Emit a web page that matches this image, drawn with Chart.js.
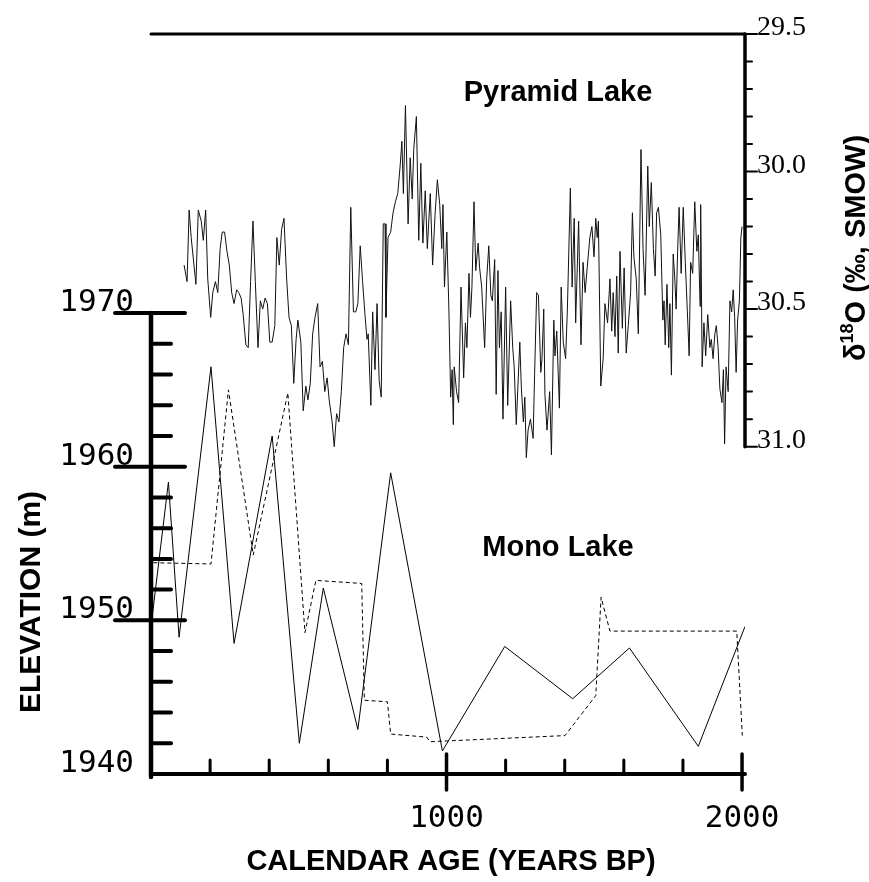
<!DOCTYPE html>
<html lang="en">
<head>
<meta charset="UTF-8">
<title>Pyramid Lake and Mono Lake</title>
<script src="https://cdn.jsdelivr.net/npm/chart.js"></script>
<style>
* { margin: 0; padding: 0; box-sizing: border-box; }
html, body { width: 869px; height: 882px; background: #fff; overflow: hidden; }
#lakeChart { display: block; }
</style>
</head>
<body>
<canvas id="lakeChart" width="869" height="882"></canvas>
<script>
// Pyramid Lake d18O record (calendar age, permil SMOW)
const pyramidAge = [
  112,122,129,136,152,160,170,177,185,192,202,209,218,226,234,241,249,257,265,273,281,290,297,305,
  312,321,329,337,345,353,362,370,378,386,394,402,410,419,426,434,442,450,459,467,475,483,491,497,
  507,515,524,531,539,547,555,564,572,580,588,596,603,613,620,628,636,644,652,660,668,676,685,693,
  700,708,716,724,731,735,744,750,758,765,772,779,786,792,795,802,811,819,827,835,843,849,854,861,
  870,877,884,889,898,906,913,920,928,935,945,953,961,969,977,984,988,993,1001,1008,1014,1019,1023,
  1026,1034,1041,1049,1058,1064,1069,1076,1081,1086,1093,1099,1107,1112,1119,1129,1136,1143,1150,
  1155,1163,1168,1174,1179,1185,1191,1200,1207,1217,1224,1229,1236,1242,1248,1253,1260,1265,1270,
  1276,1284,1293,1298,1305,1311,1319,1323,1329,1333,1340,1349,1355,1363,1367,1373,1382,1388,1395,
  1403,1409,1419,1425,1432,1437,1447,1455,1462,1469,1476,1485,1492,1499,1505,1510,1514,1522,1530,
  1536,1545,1553,1559,1564,1570,1576,1581,1587,1595,1601,1608,1615,1623,1629,1634,1642,1649,1658,
  1665,1672,1681,1686,1693,1700,1706,1711,1717,1725,1732,1736,1740,1746,1752,1756,1761,1767,1772,
  1777,1782,1787,1794,1801,1808,1815,1821,1826,1833,1840,1847,1852,1858,1860,1865,1871,1877,1884,
  1891,1896,1902,1908,1913,1919,1925,1932,1937,1941,1946,1953,1959,1965,1970,1975,1980,1985,1991,
  1996,2000
];
const pyramidO18 = [
  30.34,30.40,30.14,30.24,30.41,30.14,30.18,30.25,30.14,30.39,30.53,30.44,30.40,30.44,30.28,30.22,
  30.22,30.29,30.34,30.44,30.48,30.43,30.44,30.46,30.52,30.63,30.64,30.40,30.18,30.40,30.64,30.47,
  30.50,30.46,30.48,30.62,30.62,30.56,30.24,30.34,30.21,30.17,30.39,30.53,30.56,30.77,30.61,30.54,
  30.62,30.87,30.78,30.83,30.77,30.59,30.53,30.48,30.71,30.69,30.80,30.75,30.83,30.91,31.00,30.88,
  30.91,30.80,30.64,30.59,30.63,30.13,30.51,30.51,30.48,30.27,30.40,30.52,30.61,30.59,30.85,30.51,
  30.72,30.48,30.76,30.82,30.19,30.19,30.53,30.24,30.22,30.15,30.11,30.08,29.98,29.89,30.08,29.76,
  30.19,29.95,30.10,29.92,29.80,30.25,29.97,30.26,30.07,30.28,30.08,30.34,30.16,30.03,30.12,30.28,
  30.12,30.42,30.22,30.50,30.82,30.72,30.92,30.71,30.80,30.84,30.42,30.75,30.55,30.64,30.37,30.53,
  30.42,30.11,30.36,30.26,30.35,30.42,30.64,30.39,30.27,30.45,30.47,30.32,30.81,30.36,30.64,30.51,
  30.90,30.42,30.85,30.47,30.64,30.71,30.92,30.77,30.62,30.78,30.91,30.82,31.04,30.94,30.90,
  30.97,30.74,30.44,30.45,30.73,30.68,30.50,30.81,30.94,30.80,31.03,30.54,30.67,30.58,30.86,30.42,
  30.62,30.68,30.50,30.06,30.42,30.17,30.55,30.18,30.63,30.33,30.44,30.35,30.24,30.20,30.31,30.17,
  30.24,30.18,30.78,30.68,30.48,30.55,30.39,30.58,30.44,30.60,30.38,30.66,30.29,30.57,30.35,30.66,
  30.56,30.44,30.15,30.31,30.39,30.59,29.92,30.28,30.45,29.98,
  30.20,30.04,30.28,30.38,30.15,30.13,30.23,30.54,30.47,30.63,30.41,30.64,30.48,30.74,30.30,30.38,
  30.50,30.29,30.13,30.37,30.13,30.33,30.51,30.67,30.33,30.37,30.11,30.29,30.23,30.49,30.12,30.71,
  30.55,30.67,30.52,30.64,30.61,30.68,30.59,30.56,30.64,30.79,30.84,30.72,30.99,30.71,30.80,30.47,
  30.51,30.43,30.53,30.73,30.54,30.47,30.24,30.20
];

// Mono Lake elevation (m), solid curve
const monoSolidAge  = [2, 59, 95, 203, 281, 410, 502, 583, 700, 811, 986, 1197, 1427, 1619, 1852, 2010];
const monoSolidElev = [1949.9, 1959.0, 1948.9, 1966.5, 1948.5, 1962.0, 1942.0, 1952.1, 1942.9, 1959.6,
                       1941.5, 1948.3, 1944.9, 1948.2, 1941.8, 1949.6];

// Mono Lake elevation (m), dashed curve
const monoDashAge  = [8, 203, 262, 346, 463, 521, 558, 713, 722, 800, 811, 933, 944, 1401, 1505, 1523, 1553, 1982, 2001];
const monoDashElev = [1953.75, 1953.67, 1965.0, 1954.25, 1964.8, 1949.2, 1952.6, 1952.4, 1944.8, 1944.7,
                      1942.6, 1942.4, 1942.1, 1942.5, 1945.1, 1951.5, 1949.3, 1949.3, 1942.5];

// tick labels
const elevTicks = [1940, 1950, 1960, 1970];
const ageTicks = [1000, 2000];
const o18Ticks = ['29.5', '30.0', '30.5', '31.0'];

function pairs(xs, ys) {
  return xs.map((v, i) => ({ x: v, y: ys[i] }));
}

// the axes in the figure only cover part of the plot, so they are drawn by hand
const paperAxes = {
  id: 'paperAxes',
  afterDatasetsDraw(chart) {
    const ctx = chart.ctx;
    const x = chart.scales.x, yE = chart.scales.yElev, yO = chart.scales.yO18;
    const xL = x.getPixelForValue(0);
    const xR = x.getPixelForValue(2010);
    const yBot = yE.getPixelForValue(1940);
    const yTop = yO.getPixelForValue(29.5);

    function line(x1, y1, x2, y2, w) {
      ctx.lineWidth = w;
      ctx.beginPath();
      ctx.moveTo(x1, y1);
      ctx.lineTo(x2, y2);
      ctx.stroke();
    }

    ctx.save();
    ctx.strokeStyle = '#000';
    ctx.fillStyle = '#000';
    ctx.lineCap = 'round';

    // top border + right d18O axis
    line(xL, yTop, xR, yTop, 3);
    line(xR, yTop, xR, yO.getPixelForValue(31.0), 3.5);
    for (let i = 0; i <= 15; i++) {
      const py = yO.getPixelForValue(29.5 + i / 10);
      line(xR, py, xR + (i % 5 === 0 ? 12 : 7), py, 2);
    }
    ctx.font = '28px "Liberation Serif"';
    ctx.textAlign = 'left';
    ctx.textBaseline = 'alphabetic';
    o18Ticks.forEach(t => ctx.fillText(t, xR + 12, yO.getPixelForValue(parseFloat(t)) + 1));

    // left elevation axis
    line(xL, yE.getPixelForValue(1970), xL, yBot + 3, 4.5);
    for (let v = 1942; v < 1970; v += 2) {
      if (v % 10 === 0) continue;
      const py = yE.getPixelForValue(v);
      line(xL, py, xL + 20, py, 4);
    }
    elevTicks.forEach(v => {
      const py = yE.getPixelForValue(v);
      if (v > 1940) line(xL - 36, py, xL + 34, py, 4);
    });
    ctx.font = '31px "DejaVu Sans Mono"';
    ctx.textAlign = 'right';
    elevTicks.forEach(v => ctx.fillText(String(v), xL - 17, yE.getPixelForValue(v) - 2));

    // bottom age axis
    line(xL, yBot, xR, yBot, 4);
    for (let v = 200; v < 2000; v += 200) {
      if (v === 1000) continue;
      const px = x.getPixelForValue(v);
      line(px, yBot, px, yBot - 14, 3);
    }
    ageTicks.forEach(v => {
      const px = x.getPixelForValue(v);
      line(px, yBot - 20, px, yBot + 16, 3.5);
    });
    ctx.font = '31px "DejaVu Sans Mono"';
    ctx.textAlign = 'center';
    ageTicks.forEach(v => ctx.fillText(String(v), x.getPixelForValue(v), yBot + 53));

    // axis titles
    ctx.font = 'bold 29px "Liberation Sans"';
    ctx.fillText('CALENDAR AGE (YEARS BP)', 451, 870);

    ctx.save();
    ctx.translate(40, 602);
    ctx.rotate(-Math.PI / 2);
    ctx.font = 'bold 30px "Liberation Sans"';
    ctx.fillText('ELEVATION (m)', 0, 0);
    ctx.restore();

    // delta 18O title with superscript
    ctx.save();
    ctx.translate(865, 248);
    ctx.rotate(-Math.PI / 2);
    ctx.textAlign = 'left';
    const big = 'bold 29px "Liberation Sans"', small = 'bold 18px "Liberation Sans"';
    ctx.font = big;
    const w1 = ctx.measureText('\u03b4').width;
    const w3 = ctx.measureText('O (\u2030, SMOW)').width;
    ctx.font = small;
    const w2 = ctx.measureText('18').width;
    let cx = -(w1 + w2 + w3) / 2;
    ctx.font = big;
    ctx.fillText('\u03b4', cx, 0);
    cx += w1;
    ctx.font = small;
    ctx.fillText('18', cx, -12);
    cx += w2;
    ctx.font = big;
    ctx.fillText('O (\u2030, SMOW)', cx, 0);
    ctx.restore();

    // lake names
    ctx.font = 'bold 29px "Liberation Sans"';
    ctx.textAlign = 'center';
    ctx.fillText('Pyramid Lake', 558, 101);
    ctx.fillText('Mono Lake', 558, 556);

    ctx.restore();
  }
};

new Chart(document.getElementById('lakeChart'), {
  type: 'scatter',
  data: {
    datasets: [
      {
        label: 'Pyramid Lake d18O',
        data: pairs(pyramidAge, pyramidO18),
        yAxisID: 'yO18',
        showLine: true,
        borderColor: '#111',
        borderWidth: 1,
        pointRadius: 0
      },
      {
        label: 'Mono Lake (solid)',
        data: pairs(monoSolidAge, monoSolidElev),
        yAxisID: 'yElev',
        showLine: true,
        borderColor: '#000',
        borderWidth: 1,
        pointRadius: 0
      },
      {
        label: 'Mono Lake (dashed)',
        data: pairs(monoDashAge, monoDashElev),
        yAxisID: 'yElev',
        showLine: true,
        borderColor: '#000',
        borderWidth: 1,
        borderDash: [4, 3],
        pointRadius: 0
      }
    ]
  },
  options: {
    responsive: false,
    animation: false,
    layout: { padding: { left: 151, right: 124, top: 34, bottom: 108 } },
    plugins: {
      legend: { display: false },
      tooltip: { enabled: false }
    },
    elements: { line: { tension: 0 } },
    scales: {
      x: { type: 'linear', min: 0, max: 2010, display: false },
      yElev: { type: 'linear', min: 1940, max: 1988.16, display: false },
      yO18: { type: 'linear', min: 29.5, max: 32.19, reverse: true, display: false }
    }
  },
  plugins: [paperAxes]
});
</script>
</body>
</html>
